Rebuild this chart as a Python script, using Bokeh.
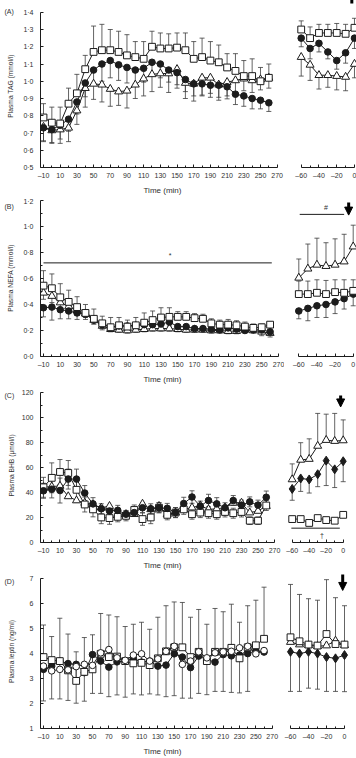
from bokeh.plotting import figure
from bokeh.layouts import row, column
from bokeh.models import (ColumnDataSource, Range1d, FixedTicker, CustomJSTickFormatter,
                          Whisker, TeeHead, Arrow, NormalHead)
from bokeh.core.properties import value
from bokeh.embed import file_html
from bokeh.resources import INLINE

FONT = "Liberation Sans"
INK = "#1c1c1c"
BAR = "#3c3c3c"
TXT = "#303030"

# ---------------------------------------------------------------- time axes
time_left = list(range(-10, 261, 10))          # infusion period (min)
time_right = [-60, -50, -40, -30, -20, -10, 0]  # pre-sampling period (min)

# ---------------------------------------------------------------- (A) plasma TAG (mmol/l)
tag_fill = [0.73, 0.72, 0.745, 0.78, 0.88, 0.99, 1.065, 1.10, 1.12, 1.095, 1.08, 1.065, 1.075, 1.11,
            1.10, 1.065, 1.05, 1.01, 0.985, 0.985, 0.977, 0.977, 0.968, 0.925, 0.915, 0.90, 0.89, 0.875]
tag_fill_se = [0.08, 0.08, 0.08, 0.07, 0.07, 0.08, 0.09, 0.10, 0.10, 0.09, 0.09, 0.08, 0.08, 0.08,
               0.08, 0.07, 0.07, 0.07, 0.07, 0.07, 0.07, 0.07, 0.07, 0.06, 0.06, 0.06, 0.05, 0.05]
tag_sq = [0.79, 0.76, 0.755, 0.87, 0.93, 1.07, 1.17, 1.18, 1.18, 1.17, 1.15, 1.14, 1.13, 1.20,
          1.19, 1.19, 1.195, 1.18, 1.13, 1.14, 1.12, 1.11, 1.08, 1.06, 1.03, 1.03, 1.00, 1.02]
tag_sq_se = [0.08, 0.09, 0.095, 0.09, 0.11, 0.08, 0.15, 0.15, 0.12, 0.12, 0.12, 0.09, 0.10, 0.09,
             0.09, 0.085, 0.085, 0.10, 0.10, 0.11, 0.11, 0.10, 0.08, 0.10, 0.09, 0.10, 0.08, 0.08]
tag_tri = [0.735, 0.715, 0.72, 0.73, 0.83, 0.96, 0.985, 0.98, 0.955, 0.94, 0.945, 0.98, 1.015, 1.04,
           1.045, 1.045, 1.07, 0.99, 0.985, 1.02, 1.02, 0.98, 0.995, 1.005, 1.015, 1.005, 1.01, 1.02]
tag_tri_se = [0.08, 0.07, 0.08, 0.08, 0.08, 0.11, 0.09, 0.10, 0.10, 0.08, 0.10, 0.08, 0.10, 0.10,
              0.08, 0.11, 0.11, 0.09, 0.10, 0.10, 0.09, 0.09, 0.08, 0.08, 0.07, 0.07, 0.06, 0.06]
tag_fill_r = [1.25, 1.19, 1.22, 1.17, 1.12, 1.165, 1.25]
tag_fill_r_se = [0.05, 0.06, 0.05, 0.04, 0.05, 0.06, 0.06]
tag_sq_r = [1.30, 1.25, 1.28, 1.28, 1.28, 1.275, 1.31]
tag_sq_r_se = [0.05, 0.065, 0.05, 0.05, 0.055, 0.055, 0.055]
tag_tri_r = [1.14, 1.095, 1.035, 1.035, 1.03, 1.025, 1.10]
tag_tri_r_se = [0.11, 0.09, 0.08, 0.07, 0.08, 0.08, 0.08]

# ---------------------------------------------------------------- (B) plasma NEFA (mmol/l)
nefa_fill = [0.375, 0.38, 0.36, 0.35, 0.335, 0.325, 0.28, 0.245, 0.225, 0.235, 0.235, 0.24, 0.245, 0.245,
             0.25, 0.265, 0.23, 0.23, 0.215, 0.215, 0.21, 0.205, 0.22, 0.21, 0.20, 0.205, 0.205, 0.19]
nefa_fill_se = [0.07, 0.10, 0.07, 0.06, 0.05, 0.04, 0.03, 0.03, 0.03, 0.03, 0.03, 0.03, 0.03, 0.03,
                0.03, 0.03, 0.03, 0.02, 0.02, 0.02, 0.02, 0.02, 0.02, 0.02, 0.02, 0.02, 0.02, 0.02]
nefa_sq = [0.545, 0.525, 0.455, 0.42, 0.38, 0.335, 0.29, 0.255, 0.225, 0.24, 0.23, 0.24, 0.26, 0.28,
           0.30, 0.305, 0.305, 0.305, 0.295, 0.29, 0.255, 0.245, 0.245, 0.24, 0.23, 0.22, 0.225, 0.245]
nefa_sq_se = [0.115, 0.11, 0.105, 0.09, 0.08, 0.065, 0.075, 0.055, 0.075, 0.06, 0.05, 0.06, 0.075, 0.07,
              0.075, 0.07, 0.04, 0.04, 0.035, 0.035, 0.035, 0.035, 0.04, 0.035, 0.035, 0.03, 0.025, 0.02]
nefa_tri = [0.49, 0.465, 0.415, 0.385, 0.355, 0.33, 0.28, 0.235, 0.21, 0.205, 0.20, 0.205, 0.21, 0.215,
            0.215, 0.215, 0.21, 0.205, 0.205, 0.205, 0.20, 0.20, 0.195, 0.195, 0.205, 0.20, 0.19, 0.18]
nefa_tri_se = [0.05, 0.05, 0.04, 0.04, 0.04, 0.03, 0.03, 0.03, 0.02, 0.02, 0.02, 0.02, 0.02, 0.02,
               0.02, 0.02, 0.02, 0.02, 0.02, 0.02, 0.02, 0.02, 0.02, 0.02, 0.02, 0.02, 0.03, 0.03]
nefa_fill_r = [0.35, 0.37, 0.39, 0.40, 0.42, 0.445, 0.48]
nefa_fill_r_se = [0.06, 0.095, 0.09, 0.10, 0.09, 0.08, 0.09]
nefa_sq_r = [0.48, 0.48, 0.49, 0.48, 0.495, 0.49, 0.505]
nefa_sq_r_se = [0.10, 0.10, 0.10, 0.105, 0.095, 0.10, 0.085]
nefa_tri_r = [0.605, 0.675, 0.705, 0.695, 0.705, 0.73, 0.845]
nefa_tri_r_se = [0.145, 0.19, 0.205, 0.18, 0.20, 0.21, 0.165]
nefa_star_span = [-10, 262]
nefa_star_level = 0.72
nefa_hash_span = [-59, -10]
nefa_hash_level = 1.093

# ---------------------------------------------------------------- (C) plasma BHB (umol/l)
bhb_fill = [41.5, 42.8, 41.7, 50.9, 50.9, 39.7, 31.0, 27.1, 25.3, 25.8, 22.7, 24.0, 27.9, 27.1,
            27.9, 27.4, 24.0, 31.3, 36.5, 29.2, 33.7, 31.0, 27.9, 33.7, 30.0, 32.6, 30.0, 36.3]
bhb_fill_se = [6, 7, 10, 8, 8, 6, 5, 4, 4, 4, 3, 3, 4, 4, 4, 4, 4, 5, 5, 4, 5, 5, 4, 4, 4, 4, 4, 5]
bhb_sq = [44.3, 51.9, 56.6, 55.8, 42.3, 30.5, 26.6, 20.1, 19.6, 20.6, 21.4, 26.1, 18.8, 20.1,
          27.9, 22.2, 24.0, 26.6, 22.7, 24.0, 23.5, 22.7, 24.5, 23.5, 24.5, 17.5, 17.5, 29.7]
bhb_sq_se = [8, 12, 10, 10, 10, 6, 6, 5, 5, 4, 4, 4, 5, 5, 4, 4, 4, 4, 4, 4, 4, 4, 4, 4, 4, 3, 3, 4]
bhb_tri = [44.3, 44.9, 45.4, 37.0, 33.7, 31.8, 30.5, 27.9, 29.2, 22.7, 22.7, 22.7, 31.0, 26.6,
           29.2, 22.7, 24.0, 26.6, 28.0, 29.7, 26.6, 27.0, 28.0, 31.8, 31.8, 24.0, 25.3, 29.2]
bhb_fill_r = [43.0, 51.4, 50.6, 54.8, 65.7, 58.7, 65.2]
bhb_fill_r_se = [9.1, 10.4, 10.9, 10.0, 20.0, 14.6, 16.4]
bhb_sq_r = [18.8, 18.8, 15.7, 19.6, 18.0, 17.5, 22.2]
bhb_sq_r_se = [2.0, 2.0, 1.5, 2.0, 1.5, 1.5, 2.0]
bhb_tri_r = [50.6, 66.3, 67.0, 77.5, 82.2, 81.4, 81.9]
bhb_tri_r_se = [12.5, 13.8, 16.2, 26.1, 20.8, 22.2, 16.5]
bhb_dagger_span = [-61, -4]
bhb_dagger_level = 11.5

# ---------------------------------------------------------------- (D) plasma leptin (ng/ml)
lep_fill = [3.36, 3.49, 3.69, 3.59, 3.56, 3.23, 3.95, 3.69, 3.45, 3.66, 3.69, 3.80, 3.65, 3.69,
            3.49, 3.53, 3.98, 3.85, 3.43, 3.89, 3.75, 3.65, 3.95, 3.90, 3.93, 3.99, 4.10, 4.05]
lep_fill_se = [1.26, 1.31, 1.51, 1.47, 1.55, 1.14, 1.55, 1.29, 1.18, 1.32, 1.44, 1.42, 1.31, 1.31,
               1.15, 1.26, 1.67, 1.64, 1.22, 1.49, 1.40, 1.17, 1.47, 1.46, 1.51, 1.51, 0.0, 0.0]
lep_sq = [3.85, 3.73, 3.69, 3.32, 2.90, 3.26, 3.36, 3.98, 3.85, 3.87, 3.69, 3.60, 3.62, 3.53,
          3.80, 4.08, 4.24, 4.24, 3.85, 4.06, 3.69, 4.06, 4.06, 4.22, 3.80, 4.24, 4.32, 4.58]
lep_sq_se = [1.28, 0.94, 1.71, 1.45, 1.16, 1.37, 1.38, 1.61, 1.68, 1.59, 1.38, 1.56, 1.62, 1.43,
             1.64, 1.82, 1.81, 1.79, 1.59, 1.69, 1.47, 1.73, 1.60, 1.74, 1.44, 1.66, 1.80, 2.06]
lep_open = [3.49, 3.30, 3.36, 3.34, 3.47, 3.56, 3.52, 4.02, 4.15, 3.82, 3.72, 3.93, 3.98, 3.69,
            3.78, 4.08, 4.28, 3.56, 3.69, 4.06, 3.82, 4.02, 4.06, 4.08, 4.22, 4.28, 3.98, 4.11]
lep_fill_r = [4.06, 3.99, 4.06, 3.99, 3.85, 3.80, 3.93]
lep_fill_r_se = [1.58, 1.51, 1.45, 1.42, 1.37, 1.32, 1.46]
lep_sq_r = [4.64, 4.48, 4.35, 4.31, 4.77, 4.37, 4.35]
lep_sq_r_se = [2.11, 1.87, 1.83, 1.81, 2.17, 1.85, 1.55]
lep_tri_r = [4.45, 4.35, 4.32, 4.28, 4.31, 4.50, 4.32]

LEFT_W, RIGHT_W = 284, 72


def style_axis(ax, major_in=3, minor_in=2):
    ax.axis_line_color = INK
    ax.axis_line_width = 1
    ax.major_tick_line_color = INK
    ax.minor_tick_line_color = INK
    ax.major_tick_in = major_in
    ax.major_tick_out = 0
    ax.minor_tick_in = minor_in
    ax.minor_tick_out = 0
    ax.major_label_text_font = FONT
    ax.major_label_text_font_size = "7px"
    ax.major_label_text_color = TXT
    ax.axis_label_text_font = FONT
    ax.axis_label_text_font_style = "normal"
    ax.axis_label_text_color = TXT


def base_fig(width, height, top, bottom, xr, yr, left_border, with_y):
    kw = dict(width=width, height=height, x_range=Range1d(*xr), y_range=Range1d(*yr),
              output_backend="svg", toolbar_location=None,
              min_border_left=left_border, min_border_right=0,
              min_border_top=top, min_border_bottom=bottom)
    if not with_y:
        kw["y_axis_location"] = None
    p = figure(**kw)
    p.outline_line_color = None
    p.xgrid.visible = False
    p.ygrid.visible = False
    p.background_fill_color = "white"
    p.border_fill_color = "white"
    return p


X_FMT = CustomJSTickFormatter(code="return tick < 0 ? '\u2013' + Math.abs(tick) : String(tick);")
DEC_FMT = CustomJSTickFormatter(code="return tick.toFixed(1).replace('.', '\u00b7');")
INT_FMT = CustomJSTickFormatter(code="return String(Math.round(tick));")


def make_panel(height, top, bottom, xl, xr, yr, ybounds, yticks, yminor, yfmt, ylabel, ystand, tag):
    left = base_fig(LEFT_W, height, top, bottom, xl, yr, 40, True)
    right = base_fig(RIGHT_W, height, top, bottom, xr, yr, 0, False)

    xa = left.xaxis[0]
    style_axis(xa)
    xa.ticker = FixedTicker(ticks=list(range(-10, 271, 20)), minor_ticks=list(range(0, 271, 20)))
    xa.bounds = (xl[0], 270)
    xa.formatter = X_FMT
    xa.major_label_standoff = 4
    xa.axis_label = "Time (min)"
    xa.axis_label_text_font_size = "8px"
    xa.axis_label_standoff = 4

    ya = left.yaxis[0]
    style_axis(ya)
    ya.ticker = FixedTicker(ticks=yticks, minor_ticks=yminor)
    ya.bounds = ybounds
    ya.formatter = yfmt
    ya.major_label_standoff = 7
    ya.axis_label = ylabel
    ya.axis_label_text_font_size = "6.7px"
    ya.axis_label_standoff = ystand

    ra = right.xaxis[0]
    style_axis(ra)
    ra.ticker = FixedTicker(ticks=[-60, -40, -20, 0], minor_ticks=[-50, -30, -10])
    ra.bounds = (-60, 0)
    ra.formatter = X_FMT
    ra.major_label_standoff = 4

    # panel letter, set at the upper-left corner beside the value axis
    t = left.title
    t.text = tag
    t.align = "left"
    t.offset = -36
    t.standoff = -20
    t.vertical_align = "bottom"
    t.text_font = FONT
    t.text_font_size = "7px"
    t.text_font_style = "normal"
    t.text_color = TXT
    return left, right


def series(p, t, y, marker, filled, size, up=None, dn=None):
    if up is not None or dn is not None:
        hi = [v + e for v, e in zip(y, up)] if up is not None else list(y)
        lo = [v - e for v, e in zip(y, dn)] if dn is not None else list(y)
        src = ColumnDataSource(dict(t=t, hi=hi, lo=lo))
        head = lambda: TeeHead(size=5, line_color=BAR, line_width=0.8)
        w = Whisker(source=src, base="t", upper="hi", lower="lo", dimension="height",
                    line_color=BAR, line_width=0.8,
                    upper_head=head() if up is not None else None,
                    lower_head=head() if dn is not None else None)
        w.level = "underlay"
        p.add_layout(w)
    p.line(t, y, line_color=INK, line_width=1)
    p.scatter(t, y, marker=marker, size=size, line_color=INK, line_width=1,
              fill_color=INK if filled else "white")


def down_arrow(p, x, y_top, y_tip):
    p.add_layout(Arrow(x_start=x, y_start=y_top, x_end=x, y_end=y_tip,
                       line_color="black", line_width=3,
                       end=NormalHead(size=8, fill_color="black", line_color="black")))


SQ, CI, TR, DI = 6.8, 6.6, 8, 9

# ---------------------------------------------------------------- panel A
a_l, a_r = make_panel(197, 4, 26, (-13.595, 278.77), (-78.81, 2.27), (0.5, 1.445), (0.5, 1.4),
                      [0.5, 0.6, 0.7, 0.8, 0.9, 1.0, 1.1, 1.2, 1.3, 1.4], [], DEC_FMT,
                      "Plasma TAG (mmol/l)", 6, "(A)")
series(a_l, time_left, tag_tri, "triangle", False, TR, dn=tag_tri_se)
series(a_l, time_left, tag_fill, "circle", True, CI, dn=tag_fill_se)
series(a_l, time_left, tag_sq, "square", False, SQ, up=tag_sq_se)
series(a_r, time_right, tag_tri_r, "triangle", False, TR, dn=tag_tri_r_se)
series(a_r, time_right, tag_fill_r, "circle", True, CI, dn=tag_fill_r_se)
series(a_r, time_right, tag_sq_r, "square", False, SQ, up=tag_sq_r_se)
down_arrow(a_r, -3, 1.56, 1.451)

# ---------------------------------------------------------------- panel B
b_l, b_r = make_panel(189, 2, 26, (-13.574, 277.15), (-75.77, 3.64), (0.0, 1.2075), (0.0, 1.2),
                      [0.0, 0.2, 0.4, 0.6, 0.8, 1.0, 1.2], [0.1, 0.3, 0.5, 0.7, 0.9, 1.1], DEC_FMT,
                      "Plasma NEFA (mmol/l)", 6, "(B)")
series(b_l, time_left, nefa_tri, "triangle", False, TR, dn=nefa_tri_se)
series(b_l, time_left, nefa_fill, "circle", True, CI, dn=nefa_fill_se)
series(b_l, time_left, nefa_sq, "square", False, SQ, up=nefa_sq_se)
series(b_r, time_right, nefa_tri_r, "triangle", False, TR, up=nefa_tri_r_se)
series(b_r, time_right, nefa_fill_r, "circle", True, CI, dn=nefa_fill_r_se)
series(b_r, time_right, nefa_sq_r, "square", False, SQ, up=nefa_sq_r_se)
b_l.line(nefa_star_span, [nefa_star_level] * 2, line_color=INK, line_width=1)
b_l.text(x=[141], y=[nefa_star_level + 0.06], text=["*"], text_font=value(FONT),
         text_font_size="7px", text_color=TXT, text_align="center", text_baseline="middle")
b_r.line(nefa_hash_span, [nefa_hash_level] * 2, line_color=INK, line_width=1)
b_r.text(x=[-30], y=[nefa_hash_level + 0.055], text=["#"], text_font=value(FONT),
         text_font_size="7px", text_color=TXT, text_align="center", text_baseline="middle")
down_arrow(b_r, -5, 1.185, 1.0875)

# ---------------------------------------------------------------- panel C
c_l, c_r = make_panel(186, 2, 26, (-13.636, 282.12), (-69.06, 15.65), (0, 123.6), (0, 120),
                      [0, 20, 40, 60, 80, 100, 120], [10, 30, 50, 70, 90, 110], INT_FMT,
                      "Plasma BHB (\u03bcmol/l)", 4, "(C)")
series(c_l, time_left, bhb_tri, "triangle", False, TR)
series(c_l, time_left, bhb_sq, "square", False, SQ, up=bhb_sq_se, dn=bhb_sq_se)
series(c_l, time_left, bhb_fill, "circle", True, CI, up=bhb_fill_se, dn=bhb_fill_se)
series(c_r, time_right, bhb_tri_r, "triangle", False, TR, up=bhb_tri_r_se)
series(c_r, time_right, bhb_fill_r, "diamond", True, DI, dn=bhb_fill_r_se)
series(c_r, time_right, bhb_sq_r, "square", False, SQ, up=bhb_sq_r_se)
c_r.line(bhb_dagger_span, [bhb_dagger_level] * 2, line_color=INK, line_width=1)
c_r.text(x=[-25], y=[bhb_dagger_level - 5.5], text=["\u2020"], text_font=value(FONT),
         text_font_size="7px", text_color=TXT, text_align="center", text_baseline="middle")
down_arrow(c_r, -3, 117.9, 108.8)

# ---------------------------------------------------------------- panel D
d_l, d_r = make_panel(186, 2, 28, (-13.673, 285.06), (-66.67, 13.33), (1, 7.146), (1, 7),
                      [1, 2, 3, 4, 5, 6, 7], [], INT_FMT,
                      "Plasma leptin (ng/ml)", 12, "(D)")
series(d_l, time_left, lep_fill, "circle", True, CI, dn=lep_fill_se)
series(d_l, time_left, lep_sq, "square", False, SQ, up=lep_sq_se)
series(d_l, time_left, lep_open, "circle", False, CI)
series(d_r, time_right, lep_fill_r, "diamond", True, DI, dn=lep_fill_r_se)
series(d_r, time_right, lep_tri_r, "triangle", False, TR)
series(d_r, time_right, lep_sq_r, "square", False, SQ, up=lep_sq_r_se)
down_arrow(d_r, -2, 7.18, 6.51)

layout = column(row(a_l, a_r), row(b_l, b_r), row(c_l, c_r), row(d_l, d_r))

open("out.html", "w").write(file_html(layout, INLINE))
